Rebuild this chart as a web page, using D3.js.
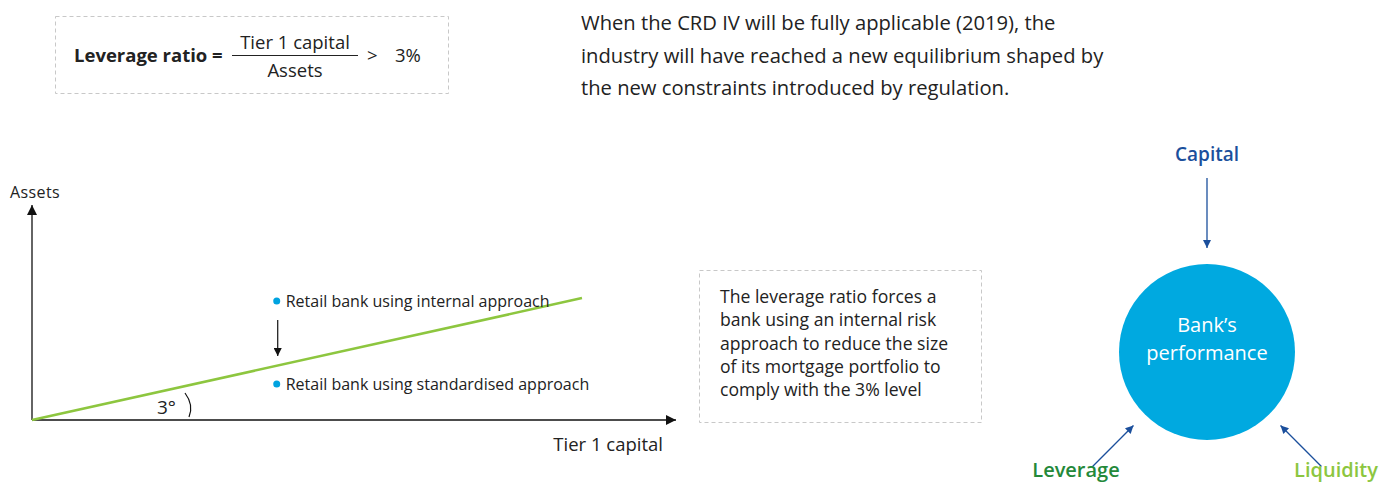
<!DOCTYPE html>
<html>
<head>
<meta charset="utf-8">
<script src="https://cdn.jsdelivr.net/npm/d3@7"></script>
<style>
  body { margin: 0; background: #fff; }
  svg text { font-family: "Open Sans", "Noto Sans", sans-serif; fill: #222; }
</style>
</head>
<body>
<div id="chart"></div>
<script>
// ---- data ----
var introLines = [
    "When the CRD IV will be fully applicable (2019), the",
    "industry will have reached a new equilibrium shaped by",
    "the new constraints introduced by regulation."
];

var noteLines = [
    "The leverage ratio forces a",
    "bank using an internal risk",
    "approach to reduce the size",
    "of its mortgage portfolio to",
    "comply with the 3% level"
];

// leverage line drawn in axis units (capital, assets)
var ratioLine = [
    {capital: 0, assets: 0},
    {capital: 85.4, assets: 56.7}
];

var banks = [
    {name: "Retail bank using internal approach", capital: 38, assets: 55.3},
    {name: "Retail bank using standardised approach", capital: 38, assets: 16.7}
];

var drivers = [
    {name: "Capital", angle: 0, color: "#1b4f9c"},
    {name: "Leverage", angle: -135, color: "#24893a"},
    {name: "Liquidity", angle: 135, color: "#8cc63f"}
];

var W = 1381, H = 482;

var svg = d3.select("#chart").append("svg")
    .attr("width", W)
    .attr("height", H);

// markers
var defs = svg.append("defs");
function marker(id, color, w, h) {
    defs.append("marker")
        .attr("id", id)
        .attr("viewBox", "0 0 10 10")
        .attr("refX", 10).attr("refY", 5)
        .attr("markerUnits", "userSpaceOnUse")
        .attr("markerWidth", w).attr("markerHeight", h)
        .attr("orient", "auto")
        .append("path")
        .attr("d", "M0,0 L10,5 L0,10 Z")
        .attr("fill", color);
}
marker("axisHead", "#111", 18, 10);
marker("smallHead", "#111", 12, 8);
marker("navyHead", "#1b4f9c", 11, 8);

// ---- formula box ----
var fb = svg.append("g");
fb.append("rect")
    .attr("x", 55.5).attr("y", 16.5).attr("width", 393).attr("height", 77)
    .attr("fill", "none").attr("stroke", "#c8c8c8").attr("stroke-dasharray", "4,3");
fb.append("text").attr("x", 74).attr("y", 62)
    .attr("font-size", 18.5).attr("font-weight", "bold")
    .text("Leverage ratio =");
fb.append("text").attr("x", 295).attr("y", 49).attr("text-anchor", "middle")
    .attr("font-size", 18.5).text("Tier 1 capital");
fb.append("line").attr("x1", 232).attr("x2", 358).attr("y1", 55.5).attr("y2", 55.5)
    .attr("stroke", "#222").attr("stroke-width", 1.2);
fb.append("text").attr("x", 295).attr("y", 77).attr("text-anchor", "middle")
    .attr("font-size", 18.5).text("Assets");
fb.append("text").attr("x", 367).attr("y", 62).attr("font-size", 18.5).text(">");
fb.append("text").attr("x", 395).attr("y", 62).attr("font-size", 18.5).text("3%");

// ---- intro paragraph ----
svg.append("g").selectAll("text").data(introLines).enter()
    .append("text")
    .attr("x", 581)
    .attr("y", function(d, i) { return 30 + i * 32.5; })
    .attr("font-size", 20.2)
    .text(function(d) { return d; });

// ---- leverage chart ----
var x = d3.scaleLinear().domain([0, 100]).range([32, 676]);
var y = d3.scaleLinear().domain([0, 100]).range([420, 205]);

var ch = svg.append("g");
ch.append("line")
    .attr("x1", x(0)).attr("y1", y(0)).attr("x2", x(0)).attr("y2", y(100))
    .attr("stroke", "#111").attr("stroke-width", 1.3).attr("marker-end", "url(#axisHead)");
ch.append("line")
    .attr("x1", x(0)).attr("y1", y(0)).attr("x2", x(100)).attr("y2", y(0))
    .attr("stroke", "#111").attr("stroke-width", 1.3).attr("marker-end", "url(#axisHead)");
ch.append("text").attr("x", 10).attr("y", 198).attr("font-size", 16)
    .attr("letter-spacing", 0.4).text("Assets");
ch.append("text").attr("x", 663).attr("y", 451).attr("text-anchor", "end")
    .attr("font-size", 18.5).text("Tier 1 capital");

var line = d3.line()
    .x(function(d) { return x(d.capital); })
    .y(function(d) { return y(d.assets); });
ch.append("path").datum(ratioLine)
    .attr("d", line)
    .attr("fill", "none").attr("stroke", "#8dc63f").attr("stroke-width", 2.6);

// angle label
ch.append("text").attr("x", 157).attr("y", 414).attr("font-size", 19).text("3°");
ch.append("path")
    .attr("d", "M185,393 Q194,405 189,417")
    .attr("fill", "none").attr("stroke", "#111").attr("stroke-width", 1.2);

var bk = ch.selectAll(".bank").data(banks).enter().append("g").attr("class", "bank");
bk.append("circle")
    .attr("cx", function(d) { return x(d.capital); })
    .attr("cy", function(d) { return y(d.assets); })
    .attr("r", 3.5).attr("fill", "#00a3e0");
bk.append("text")
    .attr("x", function(d) { return x(d.capital) + 9; })
    .attr("y", function(d) { return y(d.assets) + 6; })
    .attr("font-size", 16)
    .text(function(d) { return d.name; });

// down arrow from internal to standardised
ch.append("line")
    .attr("x1", x(banks[0].capital) + 1).attr("x2", x(banks[0].capital) + 1)
    .attr("y1", y(banks[0].assets) + 19).attr("y2", y(banks[1].assets) - 28)
    .attr("stroke", "#111").attr("stroke-width", 1.2).attr("marker-end", "url(#smallHead)");

// ---- note box ----
var nb = svg.append("g");
nb.append("rect")
    .attr("x", 699.5).attr("y", 270.5).attr("width", 282).attr("height", 152)
    .attr("fill", "none").attr("stroke", "#c8c8c8").attr("stroke-dasharray", "4,3");
nb.selectAll("text").data(noteLines).enter().append("text")
    .attr("x", 720)
    .attr("y", function(d, i) { return 303 + i * 23.3; })
    .attr("font-size", 17.6)
    .text(function(d) { return d; });

// ---- bank's performance diagram ----
var cx = 1207, cy = 352, R = 88;
var dg = svg.append("g");
dg.append("circle").attr("cx", cx).attr("cy", cy).attr("r", R).attr("fill", "#00a9e0");
dg.append("text").attr("x", cx).attr("y", 332).attr("text-anchor", "middle")
    .attr("font-size", 20).style("fill", "#fff").text("Bank\u2019s");
dg.append("text").attr("x", cx).attr("y", 360).attr("text-anchor", "middle")
    .attr("font-size", 20).style("fill", "#fff").text("performance");

var rad = function(a) { return (a - 90) * Math.PI / 180; };
var dr = dg.selectAll(".driver").data(drivers).enter().append("g").attr("class", "driver");
dr.append("line")
    .attr("x1", function(d) { return cx + Math.cos(rad(d.angle)) * 174 * (d.angle === 0 ? 1 : 0.93); })
    .attr("y1", function(d) { return cy + Math.sin(rad(d.angle)) * 174 * (d.angle === 0 ? 1 : 0.93); })
    .attr("x2", function(d) { return cx + Math.cos(rad(d.angle)) * 104; })
    .attr("y2", function(d) { return cy + Math.sin(rad(d.angle)) * 104; })
    .attr("stroke", "#1b4f9c").attr("stroke-width", 1.3)
    .attr("marker-end", "url(#navyHead)");
dr.append("text")
    .attr("x", function(d) { return d.angle === 0 ? cx : (d.angle < 0 ? 1076 : 1336); })
    .attr("y", function(d) { return d.angle === 0 ? 161 : 477; })
    .attr("text-anchor", "middle")
    .attr("font-size", function(d) { return d.angle === 0 ? 19 : 20; })
    .attr("font-weight", 600)
    .style("fill", function(d) { return d.color; })
    .text(function(d) { return d.name; });
</script>
</body>
</html>
